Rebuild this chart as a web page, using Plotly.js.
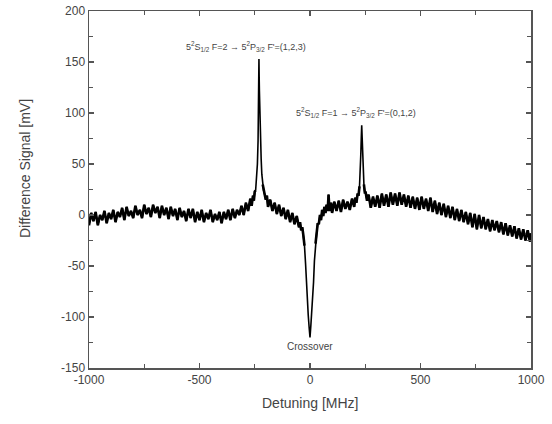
<!DOCTYPE html>
<html>
<head>
<meta charset="utf-8">
<script src="https://cdn.plot.ly/plotly-3.0.1.min.js"></script>
<style>html,body{margin:0;padding:0;background:#fff;}#chart{width:552px;height:424px;}</style>
</head>
<body>
<div id="chart"></div>
<script>
// Detuning [MHz]
const detuning = [
 -1000,-990,-980,-970,-960,-950,-940,-930,-920,-910,-900,-890,-880,-870,-860,-850,-840,-830,-820,-810,
 -800,-790,-780,-770,-760,-750,-740,-730,-720,-710,-700,-690,-680,-670,-660,-650,-640,-630,-620,-610,
 -600,-590,-580,-570,-560,-550,-540,-530,-520,-510,-500,-490,-480,-470,-460,-450,-440,-430,-420,-410,
 -400,-390,-380,-370,-360,-350,-340,-330,-320,-310,-300,-290,-280,-270,-264,-258,-254,-250,-246,-242,
 -238,-235,-233,-232,-231,-230,-229,-227,-224,-221,-218,-214,-210,-205,-200,-195,-190,-180,-170,-160,
 -150,-140,-130,-120,-110,-100,-90,-80,-70,-60,-50,-45,-40,-35,-30,-25,-20,-16,-12,-8,
 -4,0,4,8,12,16,20,25,30,35,40,45,50,55,60,65,70,75,80,84,
 88,95,100,110,120,130,140,150,160,170,180,190,200,205,210,215,220,224,227,230,
 232,234,236,238,241,244,248,252,258,265,275,285,295,305,315,325,335,345,355,365,
 375,385,395,405,415,425,435,445,455,465,475,485,495,505,515,525,535,545,555,565,
 575,585,595,605,615,625,635,645,655,665,675,685,695,705,715,725,735,745,755,765,
 775,785,795,805,815,825,835,845,855,865,875,885,895,905,915,925,935,945,955,965,
 975,985,995,1000
];
// Difference signal [mV]
const signal = [
 -10,2,-6,3,-10,0,-5,4,-8,2,-4,5,-7,3,-2,7,-5,8,-1,4,
 -3,9,0,5,-3,10,1,7,-2,10,2,8,-3,9,0,7,-4,8,-1,6,
 -5,7,-2,4,-6,6,-3,6,-7,3,-5,5,-7,2,-4,5,-7,1,-5,3,
 -8,3,-4,5,-5,6,-3,5,0,9,0,12,4,16,9,19,14,23,24,34,
 50,73,100,122,153,135,122,100,75,55,40,30,24,20,15,19,8,15,4,12,
 1,10,-1,7,-4,5,-7,2,-9,-1,-12,-7,-15,-12,-20,-30,-48,-70,-88,-98,
 -110,-120,-108,-96,-85,-66,-45,-28,-18,-8,-9,0,-5,5,-1,8,2,10,4,20,
 4,12,2,13,4,14,3,15,6,13,5,16,8,17,12,20,20,28,40,60,
 75,88,76,58,40,30,22,22,14,20,7,18,8,19,7,21,9,20,8,22,
 10,21,9,22,10,20,8,19,7,18,6,17,5,18,6,16,4,17,3,14,
 1,12,0,11,-2,9,-3,8,-5,6,-6,5,-7,3,-9,2,-12,1,-14,0,
 -13,-2,-14,-4,-16,-5,-15,-6,-17,-7,-19,-8,-20,-10,-21,-11,-23,-13,-24,-14,
 -25,-15,-26,-18
];
// Narrow features (centre, half-width in MHz) drawn with a thinner stroke
const featureCentres = [-231, 0, 235];
const featureHalfWidths = [14, 24, 9];

const xTickVals = [-1000, -500, 0, 500, 1000];
const yTickVals = [-150, -100, -50, 0, 50, 100, 150, 200];
const peakLabels = [
  "5<sup>2</sup>S<sub>1/2</sub> F=2 → 5<sup>2</sup>P<sub>3/2</sub> F'=(1,2,3)",
  "5<sup>2</sup>S<sub>1/2</sub> F=1 → 5<sup>2</sup>P<sub>3/2</sub> F'=(0,1,2)",
  "Crossover"
];
const labelX = [-290, 208, 0];
const labelY = [153, 88, -120];

const axisCol = '#555';
const textCol = '#444';
const font = {family: 'Liberation Sans, Arial, sans-serif', size: 12, color: textCol};

const inFeature = x => featureCentres.some((c, k) => Math.abs(x - c) < featureHalfWidths[k]);
const baselineY = signal.map((v, i) => inFeature(detuning[i]) ? null : v);

const thinTrace = {
  x: detuning, y: signal, type: 'scatter', mode: 'lines',
  line: {color: '#000', width: 1.6}, hoverinfo: 'skip'
};
const bandTrace = {
  x: detuning, y: baselineY, type: 'scatter', mode: 'lines', connectgaps: false,
  line: {color: '#000', width: 2.6}, hoverinfo: 'skip'
};

const layout = {
  width: 552, height: 424,
  margin: {l: 89, r: 21, t: 11, b: 56},
  paper_bgcolor: '#fff', plot_bgcolor: '#fff',
  showlegend: false,
  font: font,
  xaxis: {
    range: [-1000, 1000], tickvals: xTickVals, ticktext: xTickVals.map(String),
    showgrid: false, zeroline: false, showline: true, linecolor: axisCol, linewidth: 1.5,
    mirror: 'ticks', ticks: 'inside', ticklen: 5, tickwidth: 1.2, tickcolor: axisCol,
    minor: {ticks: 'inside', dtick: 250, tick0: 0, ticklen: 4, tickcolor: axisCol, showgrid: false},
    tickfont: {size: 12, color: textCol}
  },
  yaxis: {
    range: [-150, 200], tickvals: yTickVals, ticktext: yTickVals.map(String),
    showgrid: false, zeroline: false, showline: true, linecolor: axisCol, linewidth: 1.5,
    mirror: 'ticks', ticks: 'inside', ticklen: 5, tickwidth: 1.2, tickcolor: axisCol,
    minor: {ticks: 'inside', dtick: 25, tick0: 0, ticklen: 4, tickcolor: axisCol, showgrid: false},
    tickfont: {size: 12, color: textCol}
  },
  annotations: [
    {text: peakLabels[0], x: labelX[0], y: labelY[0], xref: 'x', yref: 'y',
     yanchor: 'bottom', yshift: 4, showarrow: false, font: {size: 9, color: textCol}},
    {text: peakLabels[1], x: labelX[1], y: labelY[1], xref: 'x', yref: 'y',
     yanchor: 'bottom', yshift: 4, showarrow: false, font: {size: 9, color: textCol}},
    {text: peakLabels[2], x: labelX[2], y: labelY[2], xref: 'x', yref: 'y',
     yanchor: 'top', yshift: -2, showarrow: false, font: {size: 10, color: textCol}},
    {text: 'Detuning [MHz]', x: 0.5, y: -0.098, xref: 'paper', yref: 'paper',
     xanchor: 'center', yanchor: 'middle', showarrow: false, font: {size: 14, color: textCol}},
    {text: 'Difference Signal [mV]', x: -0.145, y: 0.56, xref: 'paper', yref: 'paper',
     xanchor: 'center', yanchor: 'middle', textangle: -90, showarrow: false, font: {size: 14, color: textCol}}
  ]
};

Plotly.newPlot('chart', [thinTrace, bandTrace], layout, {staticPlot: true, displayModeBar: false});
</script>
</body>
</html>
